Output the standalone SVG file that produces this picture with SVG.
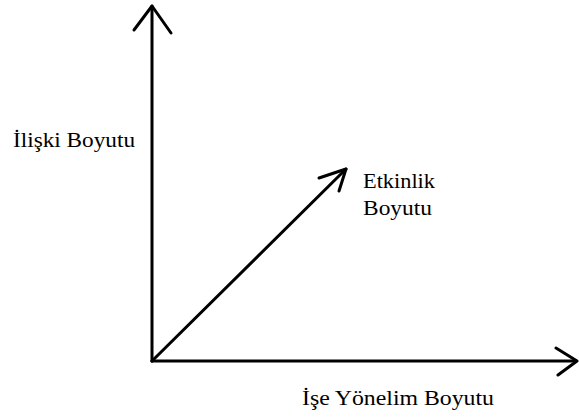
<svg xmlns="http://www.w3.org/2000/svg" width="579" height="417" viewBox="0 0 579 417">
<style>
.ax{stroke:#000;stroke-width:3;fill:none;stroke-linecap:round;stroke-linejoin:round}
.t{font-family:"Liberation Serif","Times New Roman",serif;font-size:20px;fill:#000}
</style>
<rect width="579" height="417" fill="#fff"/>
<g id="connectors">
<path class="ax" d="M152,361 V6"/>
<path class="ax" d="M134,30 L152,6 L171,33"/>
<path class="ax" d="M152,361 H576"/>
<path class="ax" d="M556,348 L577,361 L558,375"/>
<path class="ax" d="M152,361 L346,169"/>
<path class="ax" d="M319,178 L346,169 L339,191"/>
</g>
<g id="iliski"><text class="t" x="13" y="147" textLength="122" lengthAdjust="spacingAndGlyphs">İlişki Boyutu</text></g>
<g id="etkinlik"><text class="t" x="363" y="188" textLength="72" lengthAdjust="spacingAndGlyphs">Etkinlik</text><text class="t" x="363" y="215" textLength="69" lengthAdjust="spacingAndGlyphs">Boyutu</text></g>
<g id="ise"><text class="t" x="302" y="405" textLength="192" lengthAdjust="spacingAndGlyphs">İşe Yönelim Boyutu</text></g>
</svg>
